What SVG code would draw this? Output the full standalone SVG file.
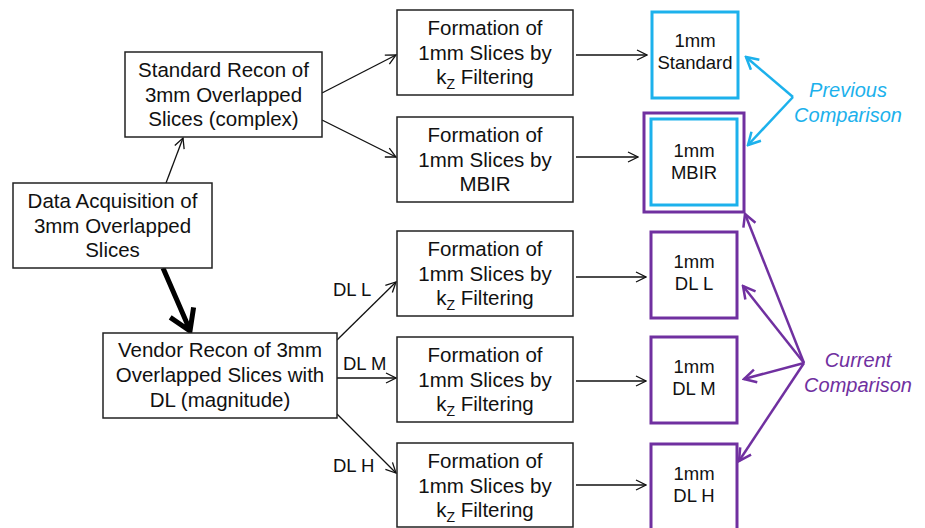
<svg xmlns="http://www.w3.org/2000/svg" width="925" height="528" viewBox="0 0 925 528">
<defs>
<style>
.box{fill:#fff;stroke:#222;stroke-width:1.5}
.t{font-family:"Liberation Sans",Arial,sans-serif;font-size:20.5px;fill:#111;text-anchor:middle}
.s{font-family:"Liberation Sans",Arial,sans-serif;font-size:18.5px;fill:#111;text-anchor:middle}
.lab{font-family:"Liberation Sans",Arial,sans-serif;font-size:18.5px;fill:#111}
.cy{fill:#fff;stroke:#1CB1EC;stroke-width:3}
.pu{fill:#fff;stroke:#7030A0;stroke-width:3}
.conn{fill:none;stroke:#111;stroke-width:1.3;marker-end:url(#ah)}
.cconn{fill:none;stroke:#1CB1EC;stroke-width:2.5;marker-end:url(#ahc)}
.pconn{fill:none;stroke:#7030A0;stroke-width:2.5;marker-end:url(#ahp)}
.it{font-family:"Liberation Sans",Arial,sans-serif;font-size:20px;font-style:italic;text-anchor:middle}
</style>
<marker id="ah" viewBox="0 0 12 12" refX="11" refY="6" markerWidth="12" markerHeight="12" markerUnits="userSpaceOnUse" orient="auto"><path d="M1,1 L11,6 L1,11" fill="none" stroke="#111" stroke-width="1.3"/></marker>
<marker id="ahc" viewBox="0 0 16 16" refX="14" refY="8" markerWidth="16" markerHeight="16" markerUnits="userSpaceOnUse" orient="auto"><path d="M2,1.5 L14,8 L2,14.5" fill="none" stroke="#1CB1EC" stroke-width="2.5"/></marker>
<marker id="ahp" viewBox="0 0 16 16" refX="14" refY="8" markerWidth="16" markerHeight="16" markerUnits="userSpaceOnUse" orient="auto"><path d="M2,1.5 L14,8 L2,14.5" fill="none" stroke="#7030A0" stroke-width="2.5"/></marker>
</defs>
<rect width="925" height="528" fill="#fff"/>

<g id="connectors">
<path class="conn" d="M166,183 L183,138"/>
<path class="conn" d="M322,93 L396,55"/>
<path class="conn" d="M322,120 L396,157"/>
<path class="conn" d="M576,55 L647,55"/>
<path class="conn" d="M576,157 L638,157"/>
<path class="conn" d="M576,277 L646,277"/>
<path class="conn" d="M576,381 L646,381"/>
<path class="conn" d="M576,485 L646,485"/>
<path class="conn" d="M337,340 L396,282"/>
<path class="conn" d="M337,378 L396,378"/>
<path class="conn" d="M337,414 L396,473"/>
<path d="M163,268 L189,328 M170.2,317.4 L190,331 L193.6,307.3" fill="none" stroke="#000" stroke-width="5" stroke-linejoin="miter"/>
<path class="cconn" d="M793,97 L746,57"/>
<path class="cconn" d="M793,97 L748,145"/>
<path class="pconn" d="M804,363 L745,214"/>
<path class="pconn" d="M804,363 L743,286"/>
<path class="pconn" d="M804,363 L744,379"/>
<path class="pconn" d="M804,363 L739,461"/>
<text class="lab" x="333" y="296">DL L</text>
<text class="lab" x="343" y="370">DL M</text>
<text class="lab" x="333" y="472">DL H</text>
</g>

<g id="standard-recon">
<rect class="box" x="125" y="52" width="197" height="85"/>
<text class="t" x="223.5" y="77">Standard Recon of</text>
<text class="t" x="223.5" y="102">3mm Overlapped</text>
<text class="t" x="223.5" y="126">Slices (complex)</text>
</g>

<g id="data-acquisition">
<rect class="box" x="13" y="183" width="199" height="85"/>
<text class="t" x="112.5" y="208">Data Acquisition of</text>
<text class="t" x="112.5" y="233">3mm Overlapped</text>
<text class="t" x="112.5" y="257">Slices</text>
</g>

<g id="vendor-recon">
<rect class="box" x="103" y="333" width="234" height="85"/>
<text class="t" x="220" y="357">Vendor Recon of 3mm</text>
<text class="t" x="220" y="382">Overlapped Slices with</text>
<text class="t" x="220" y="407">DL (magnitude)</text>
</g>

<g id="formation-kz-std">
<rect class="box" x="397" y="10" width="176" height="85"/>
<text class="t" x="485" y="35">Formation of</text>
<text class="t" x="485" y="60">1mm Slices by</text>
<text class="t" x="485" y="84">k<tspan font-size="14px" dy="5">Z</tspan><tspan dy="-5"> Filtering</tspan></text>
</g>

<g id="formation-mbir">
<rect class="box" x="397" y="117" width="176" height="85"/>
<text class="t" x="485" y="142">Formation of</text>
<text class="t" x="485" y="167">1mm Slices by</text>
<text class="t" x="485" y="191">MBIR</text>
</g>

<g id="formation-kz-dll">
<rect class="box" x="397" y="231" width="176" height="85"/>
<text class="t" x="485" y="256">Formation of</text>
<text class="t" x="485" y="281">1mm Slices by</text>
<text class="t" x="485" y="305">k<tspan font-size="14px" dy="5">Z</tspan><tspan dy="-5"> Filtering</tspan></text>
</g>

<g id="formation-kz-dlm">
<rect class="box" x="397" y="337" width="176" height="85"/>
<text class="t" x="485" y="362">Formation of</text>
<text class="t" x="485" y="387">1mm Slices by</text>
<text class="t" x="485" y="411">k<tspan font-size="14px" dy="5">Z</tspan><tspan dy="-5"> Filtering</tspan></text>
</g>

<g id="formation-kz-dlh">
<rect class="box" x="397" y="443" width="176" height="84"/>
<text class="t" x="485" y="468">Formation of</text>
<text class="t" x="485" y="493">1mm Slices by</text>
<text class="t" x="485" y="517">k<tspan font-size="14px" dy="5">Z</tspan><tspan dy="-5"> Filtering</tspan></text>
</g>

<g id="out-standard">
<rect class="cy" x="652" y="12" width="86" height="86"/>
<text class="s" x="695" y="47">1mm</text>
<text class="s" x="695" y="69">Standard</text>
</g>

<g id="out-mbir">
<rect class="pu" x="644" y="113" width="100" height="99"/>
<rect class="cy" x="651" y="119" width="86" height="86"/>
<text class="s" x="694" y="157">1mm</text>
<text class="s" x="694" y="179">MBIR</text>
</g>

<g id="out-dll">
<rect class="pu" x="651" y="232" width="86" height="86"/>
<text class="s" x="694" y="268">1mm</text>
<text class="s" x="694" y="290">DL L</text>
</g>

<g id="out-dlm">
<rect class="pu" x="651" y="337" width="86" height="86"/>
<text class="s" x="694" y="373">1mm</text>
<text class="s" x="694" y="395">DL M</text>
</g>

<g id="out-dlh">
<rect class="pu" x="651" y="444" width="86" height="86"/>
<text class="s" x="694" y="480">1mm</text>
<text class="s" x="694" y="502">DL H</text>
</g>

<g id="previous-comparison">
<text class="it" x="848" y="97" fill="#1CB1EC">Previous</text>
<text class="it" x="848" y="122" fill="#1CB1EC">Comparison</text>
</g>

<g id="current-comparison">
<text class="it" x="858" y="367" fill="#7030A0">Current</text>
<text class="it" x="858" y="392" fill="#7030A0">Comparison</text>
</g>
</svg>
